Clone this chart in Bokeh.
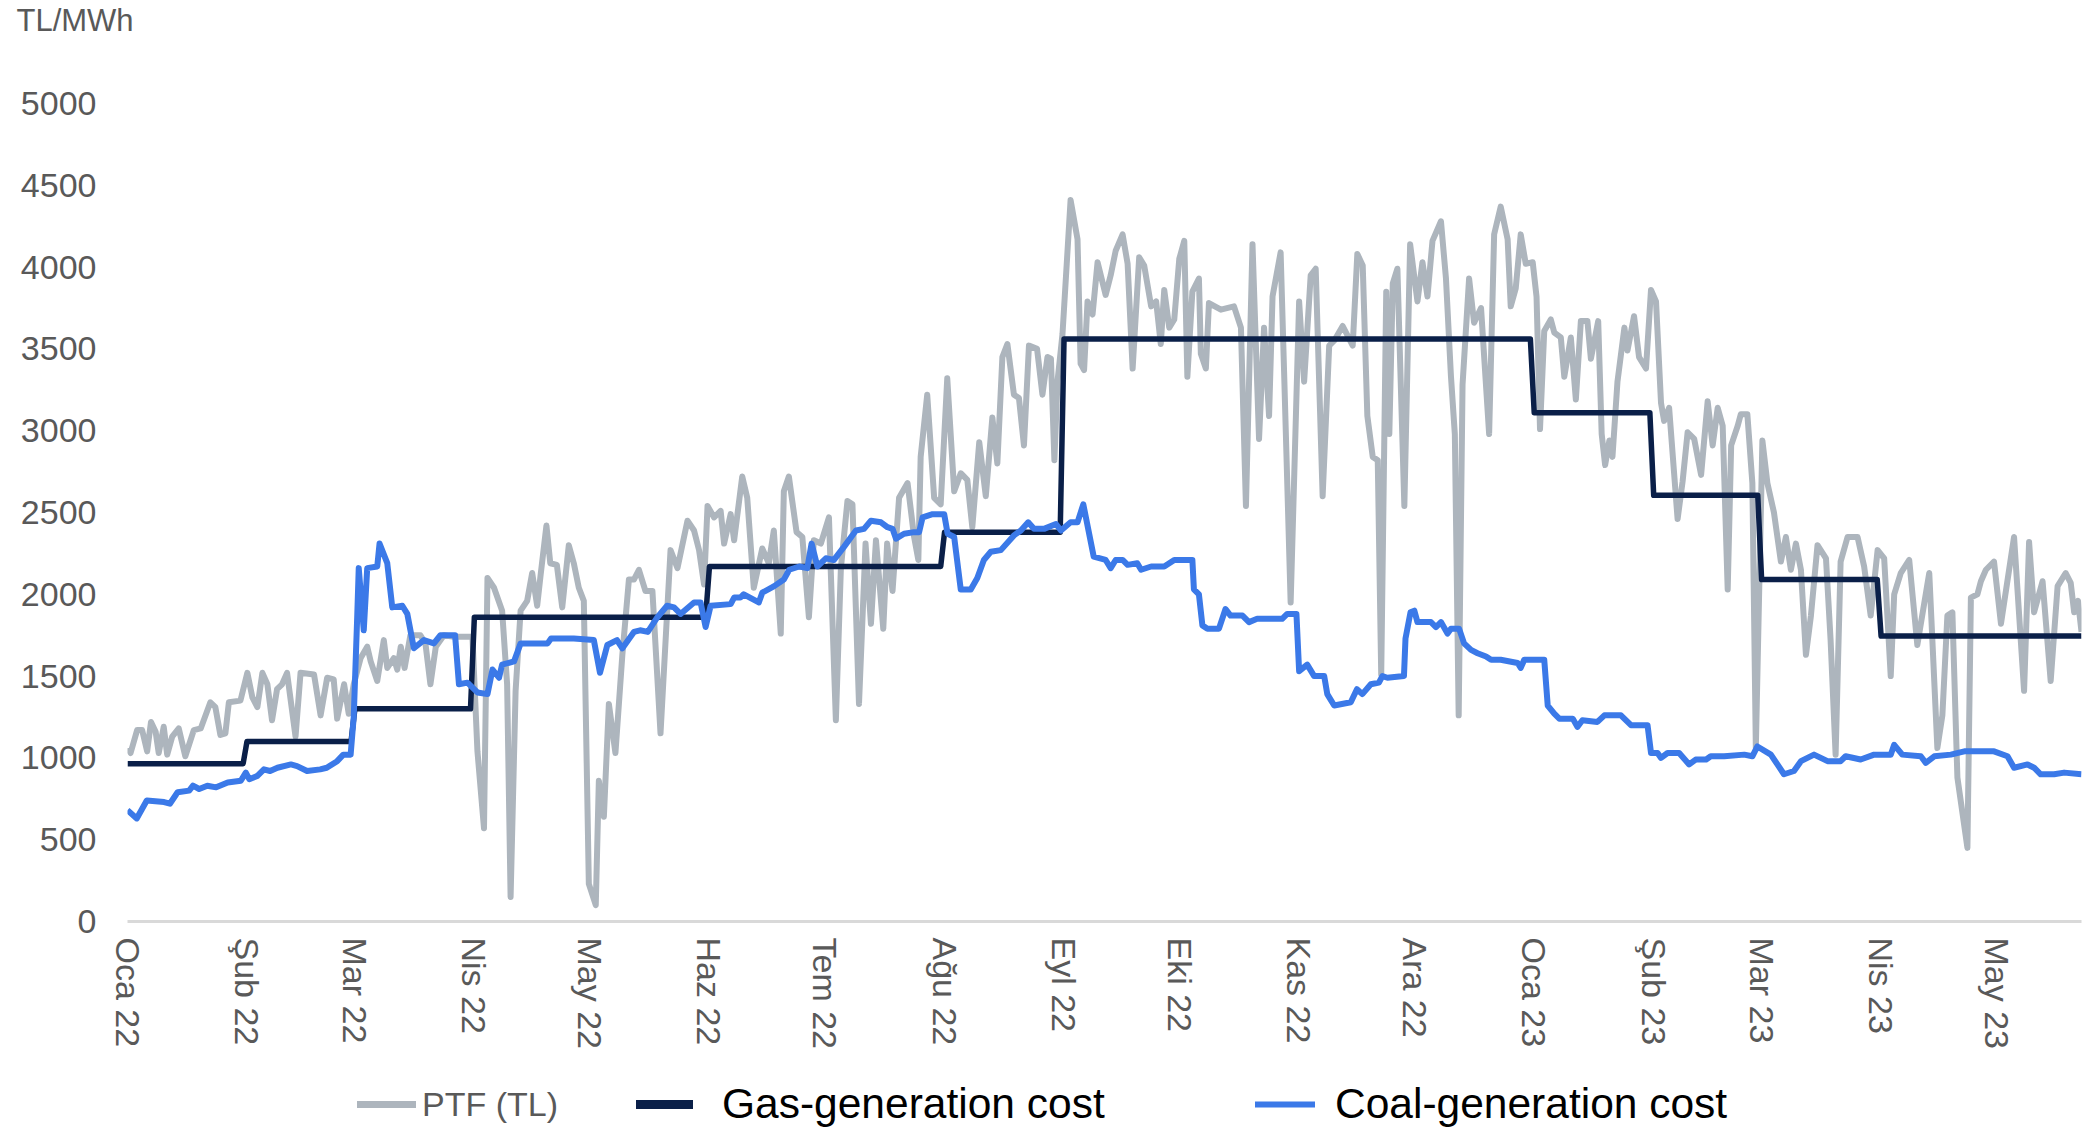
import datetime as dt
from bokeh.plotting import figure
from bokeh.layouts import column
from bokeh.models import Range1d, FixedTicker, Legend, LegendItem
from bokeh.embed import file_html
from bokeh.resources import INLINE

START = dt.date(2022, 1, 1)

# ---- axis ticks -------------------------------------------------------------
tick_months = [(2022, 1), (2022, 2), (2022, 3), (2022, 4), (2022, 5), (2022, 6),
               (2022, 7), (2022, 8), (2022, 9), (2022, 10), (2022, 11), (2022, 12),
               (2023, 1), (2023, 2), (2023, 3), (2023, 4), (2023, 5)]
tick_labels = ["Oca 22", "Şub 22", "Mar 22", "Nis 22", "May 22", "Haz 22",
               "Tem 22", "Ağu 22", "Eyl 22", "Eki 22", "Kas 22", "Ara 22",
               "Oca 23", "Şub 23", "Mar 23", "Nis 23", "May 23"]
y_ticks = [0, 500, 1000, 1500, 2000, 2500, 3000, 3500, 4000, 4500, 5000]

# ---- gas-generation cost (monthly tariff, TL/MWh) ---------------------------
gas_months = tick_months
gas_values = [965, 1100, 1300, 1860, 1860, 2170, 2170, 2380, 3560, 3560, 3560, 3560,
              3110, 2605, 2090, 1745, 1745]
last_day = dt.date(2023, 5, 23)

# ---- PTF (days since 2022-01-01, TL/MWh) ------------------------------------
ptf_days = [
    0, 0.8, 2.5, 3.8, 5.1, 6.1, 7.3, 8.1, 9.4, 10.3,
    11.6, 13.3, 15, 17.2, 19, 21.5, 22.8, 24.1, 25.4, 26.3,
    29.3, 31.1, 32.4, 33.7, 35, 36.3, 37.5, 38.8, 40.1, 41.4,
    43.6, 44.9, 48.4, 50.1, 51.8, 53.5, 54.4, 56.2, 57.4, 58.7,
    60.5, 62.2, 63.1, 64.8, 66.5, 67.4, 69.1, 70, 70.9, 71.9,
    73.4, 76, 77.3, 78.6, 80, 82.1, 84.7, 89.5,
    90.8, 92.5, 93.4, 95.1, 97.2, 98.5, 99.4, 100.7, 102, 103.7,
    105, 106.3, 107.2, 108.7, 109.7, 111.4, 112.8, 114.5, 115.8, 117.1,
    118.4, 119.7, 121.5, 122.3, 123.6, 124.9, 126.6, 128.4, 130.1, 131.4,
    132.7, 134.4, 136.2, 138.3, 140.9, 142.7, 145.3, 147, 148.3, 149.6,
    150.5, 152.2, 153.9, 154.8, 156.5, 157.4, 159.5, 160.8, 162.5, 164.7,
    166.4, 167.7, 169.5, 170.3, 171.6, 173.6, 175.1, 176.8, 178.1, 179.9,
    182, 183.8, 185.1, 186.8, 188.1, 189.8, 191.5, 192.9, 194.2, 196.1,
    197.1, 198.5, 200.2, 202.4, 204.1, 205.2, 205.8, 207.5, 209.3, 211,
    212.7, 214.5, 216.2, 217.9, 219.2, 221, 222.7, 224.4, 225.7, 227,
    228.3, 230, 231.3, 232.6, 233.9, 236, 237.4, 238.7, 239.6, 240.5,
    241.3, 242.6, 244.7, 246.5, 247.3, 248.2, 249.1, 250.4, 251.7, 253.8,
    255.1, 256.4, 258.2, 259.5, 260.8, 262.5, 263.8, 265.6, 266.9, 268.1,
    269, 270.3, 271.6, 272.9, 274.2, 275, 276.3, 278, 278.5, 279.8,
    280.6, 283.7, 287.1, 288.9, 290.2, 291.9, 293.6, 294.9, 296.2, 297.1,
    299.2, 300.1, 301.8, 304, 305.3, 307, 308.3, 310.1, 311.8, 313.1,
    315.3, 317.9, 319.1, 320.5, 321.7, 323.1, 324.4, 325.3, 326.6, 327.4,
    328.3, 329.5, 331.3, 332.8, 334.7, 336, 337.3, 338.6, 340.8, 342.1,
    343.4, 344.4, 345.4, 346.4, 348.1, 349.4, 351.2, 353.3, 354.6, 356.3,
    358.1, 358.9, 360.2, 361.5, 362.8, 364.6,
    365.6, 366.5, 367.6, 369.3, 370.2, 371.9, 372.8, 374.5, 375.8, 377.1,
    378.8, 379.7, 381.6, 382.5, 383.4, 384.5, 385.3, 386.6, 388.4, 389.2,
    390.9, 392.2, 394, 395.3, 396.6, 397.9, 398.7, 400, 402.2, 403.5,
    404.8, 406.5, 408.3, 410, 411.3, 412.6, 413.9, 415.2, 416.1, 417.8,
    418.6, 420.3, 421.6, 422.5, 424.2, 425.5, 427.2, 429, 430.3, 431.6,
    432.9, 434.2, 435.5, 436.8, 438.5, 440.7, 441.9, 443.2, 444.5, 446.3,
    448.9, 450.6, 452.3, 454.1, 455.8, 457.5, 458.4, 460.1, 462.3, 464.4,
    467.5, 469.6, 470.9, 472.2, 473.5, 474.8, 477.4, 478.3, 480, 480.9,
    482.2, 484.3, 486.1, 489.5, 492.1, 493.4, 494.7, 496.9, 499, 500.8,
    502.9, 504.2, 505.1, 506.1, 507,
]
ptf_values = [
    1060, 1030, 1170, 1170, 1040, 1220, 1160, 1030, 1190, 1020,
    1130, 1180, 1010, 1170, 1180, 1340, 1310, 1140, 1150, 1340,
    1350, 1520, 1370, 1310, 1520, 1450, 1230, 1420, 1450, 1520,
    1130, 1520, 1510, 1260, 1490, 1480, 1240, 1450, 1270, 1450,
    1610, 1680, 1590, 1470, 1720, 1550, 1610, 1540, 1680, 1550,
    1750, 1750, 1700, 1450, 1680, 1750, 1740, 1740,
    1040, 570, 2100, 2040, 1900, 1450, 150, 1410, 1900, 1960,
    2130, 1930, 2120, 2420, 2190, 2180, 1920, 2300, 2190, 2040,
    1960, 230, 100, 860, 640, 1330, 1030, 1630, 2090, 2090,
    2150, 2020, 2020, 1150, 2270, 2160, 2450, 2390, 2270, 2060,
    2540, 2470, 2510, 2310, 2490, 2330, 2720, 2590, 2040, 2280,
    2190, 2390, 1760, 2630, 2720, 2380, 2350, 1860, 2330, 2310,
    2470, 1230, 2160, 2570, 2550, 1330, 2310, 1820, 2330, 1790,
    2310, 2020, 2590, 2680, 2350, 2210, 2840, 3220, 2590, 2550,
    3320, 2630, 2740, 2700, 2410, 2930, 2600, 3080, 2800, 3450,
    3530, 3220, 3200, 2910, 3520, 3500, 3220, 3450, 3440, 2820,
    3300, 3590, 4410, 4170, 3410, 3370, 3790, 3710, 4030, 3830,
    3950, 4100, 4200, 4020, 3380, 4060, 4010, 3760, 3790, 3530,
    3860, 3630, 3680, 4050, 4160, 3330, 3850, 3930, 3470, 3380,
    3780, 3740, 3760, 3630, 2540, 4140, 2950, 3630, 3090, 3820,
    4090, 3360, 1950, 3790, 3300, 3950, 3990, 2600, 3520, 3550,
    3640, 3520, 4080, 4010, 3090, 2840, 2820, 1510, 3850, 2980,
    3900, 3990, 2540, 4140, 3790, 4030, 3820, 4160, 4280, 3930,
    3330, 2980, 1260, 3280, 3930, 3660, 3750, 2980, 4200, 4370,
    4170, 3760, 3870, 4200, 4020, 4030,
    3820, 3010, 3610, 3680, 3600, 3570, 3330, 3570, 3190, 3670,
    3670, 3440, 3670, 2980, 2790, 2940, 2840, 3300, 3630, 3490,
    3700, 3450, 3380, 3860, 3790, 3170, 3060, 3140, 2460, 2690,
    2990, 2950, 2730, 3180, 2910, 3140, 3030, 2030, 2910, 3030,
    3100, 3100, 2680, 1060, 2940, 2680, 2500, 2200, 2350, 2150,
    2310, 2150, 1630, 1870, 2300, 2220, 1720, 1020, 2200, 2350,
    2350, 2170, 1870, 2270, 2220, 1500, 2000, 2130, 2210, 1690,
    2130, 1060, 1260, 1870, 1890, 880, 450, 1980, 2000, 2080,
    2150, 2200, 1820, 2350, 1410, 2320, 1890, 2080, 1470, 2050,
    2130, 2070, 1890, 1960, 1770,
]

# ---- coal-generation cost (days since 2022-01-01, TL/MWh) -------------------
coal_days = [
    0, 2.4, 5, 9.5, 11, 13, 16, 17, 18.6, 20.7,
    23, 26, 29.4, 30.7, 31.6, 33.7, 35.4, 37, 38.9, 42.4,
    44, 46.6, 50, 51.7, 54.4, 56, 57.9, 58.7, 59.6, 60,
    61.3, 62.2, 64.8, 65.4, 67.4, 68.7, 71.3, 72.6, 74.3, 76.9,
    79.5, 81.2, 85, 86, 88.2, 90.8, 93.4, 94.7, 96.4, 97.2,
    100.3, 102, 109, 109.9, 115.8, 121, 122.6, 124.5, 127, 128.4,
    131.4, 133, 135, 137.5, 140, 141.8, 143.5, 147, 148.7, 150,
    151.3, 156.5, 157.4, 159, 159.9, 163.8, 164.7, 167.8, 170.3, 171.7,
    174.3, 176.4, 177.5, 179, 181.2, 183.3, 185.9, 189, 191.1, 192.9,
    195.5, 197.2, 198.5, 199.4, 201.5, 204.1, 205.4, 206.3, 208.9, 211.9,
    212.8, 214.5, 216.2, 218.8, 220.5, 222.2, 224, 226.6, 230, 231.8,
    233.7, 235.2, 237.8, 240.9, 242.2, 244.7, 246.5, 248, 250.7, 253.8,
    255.1, 256.4, 258.2, 259.5, 262, 263, 265.6, 269, 271.6, 276.3,
    276.7, 278, 278.9, 280.2, 283.2, 284.9, 286.2, 289.3, 291, 293.1,
    299.6, 300.9, 303.3, 304, 306.1, 307.9, 310.5, 311.3, 313.1, 317.4,
    319, 320.4, 322.6, 324.7, 325.6, 326.9, 331.2, 331.6, 332.9, 333.9,
    334.7, 338.2, 339.5, 340.8, 342.5, 343.4, 345.5, 346.8, 348.6, 350.3,
    352.5, 353.8, 356.3, 360.7, 361.5, 362.4, 367.6, 368.5, 370.2, 371.5,
    375, 376.2, 377.5, 381.4, 383.2, 387.5, 390.1, 394.4, 395.3, 397,
    397.9, 399.6, 402.6, 405.2, 406.9, 409.6, 410.8, 414.3, 419.5, 421.6,
    422.9, 426.4, 428.1, 429.8, 432.4, 434.2, 437.6, 441.1, 444.5, 445.8,
    449.7, 453.2, 457.5, 458.4, 460.5, 465.3, 466.6, 468.8, 473.1, 476.6,
    484.3, 487.8, 489.5, 493, 494.7, 496.4, 499.9, 502.5, 507,
]
coal_values = [
    680, 630, 740, 730, 720, 790, 800, 830, 810, 830,
    820, 850, 860, 910, 870, 890, 930, 920, 940, 960,
    950, 920, 930, 940, 980, 1020, 1020, 1250, 1860, 2160,
    1780, 2160, 2170, 2310, 2190, 1920, 1930, 1880, 1670, 1720,
    1700, 1750, 1750, 1450, 1460, 1400, 1390, 1540, 1490, 1570,
    1590, 1700, 1700, 1730, 1730, 1720, 1520, 1690, 1720, 1670,
    1770, 1780, 1770, 1860, 1930, 1920, 1880, 1950, 1950, 1800,
    1930, 1940, 1980, 1980, 2000, 1950, 2010, 2050, 2090, 2150,
    2170, 2160, 2310, 2170, 2220, 2210, 2290, 2390, 2400, 2450,
    2440, 2410, 2400, 2340, 2370, 2380, 2380, 2470, 2490, 2490,
    2370, 2350, 2030, 2030, 2100, 2210, 2260, 2270, 2360, 2390,
    2440, 2400, 2400, 2430, 2390, 2440, 2440, 2550, 2230, 2210,
    2160, 2210, 2210, 2180, 2190, 2150, 2170, 2170, 2210, 2210,
    2030, 2000, 1810, 1790, 1790, 1910, 1870, 1870, 1830, 1850,
    1850, 1880, 1880, 1530, 1570, 1500, 1500, 1390, 1320, 1340,
    1420, 1390, 1450, 1460, 1500, 1490, 1500, 1730, 1890, 1900,
    1830, 1830, 1800, 1830, 1760, 1790, 1790, 1700, 1660, 1640,
    1620, 1600, 1600, 1580, 1550, 1600, 1600, 1320, 1270, 1240,
    1240, 1190, 1230, 1220, 1260, 1260, 1200, 1200, 1030, 1030,
    1000, 1030, 1030, 960, 990, 990, 1010, 1010, 1020, 1010,
    1070, 1020, 960, 900, 920, 980, 1020, 980, 980, 1010,
    990, 1020, 1020, 1080, 1020, 1010, 970, 1010, 1020, 1040,
    1040, 1010, 940, 960, 940, 900, 900, 910, 900,
]

# ---- derived series -----------------------------------------------------------
tick_pos = [(dt.date(y, m, 1) - START).days for (y, m) in tick_months]
gas_lookup = dict(zip(gas_months, gas_values))
n_days = (last_day - START).days
gas_days = list(range(n_days + 1))
gas_daily = []
for d in gas_days:
    day = START + dt.timedelta(days=d)
    gas_daily.append(gas_lookup[(day.year, day.month)])

GREY = "#adb5bd"
NAVY = "#0a1f48"
BLUE = "#3b79e8"
TXT = "#595959"
FONT = "Liberation Sans"
W = 2090
FRAME_LEFT = 127


def blank_fig(h):
    f = figure(width=W, height=h, output_backend="svg", toolbar_location=None,
               x_range=Range1d(0, 1), y_range=Range1d(0, 1),
               x_axis_location=None, y_axis_location=None, min_border=0)
    f.outline_line_color = None
    f.background_fill_color = "white"
    f.border_fill_color = "white"
    f.xgrid.visible = False
    f.ygrid.visible = False
    return f


# ---- header row carrying the unit label -------------------------------------------
head = blank_fig(42)
head.title.text = "TL/MWh"
head.title.align = "left"
head.title.offset = 16 - FRAME_LEFT
head.title.standoff = 0
head.title.vertical_align = "bottom"
head.title.text_font = FONT
head.title.text_font_size = "31px"
head.title.text_font_style = "normal"
head.title.text_color = TXT

# ---- main chart ---------------------------------------------------------------
p = figure(width=W, height=1029, output_backend="svg", toolbar_location=None,
           x_range=Range1d(0, n_days), y_range=Range1d(0, 5000),
           min_border_left=FRAME_LEFT, min_border_right=9, min_border_top=61,
           min_border_bottom=150)
p.outline_line_color = None
p.xgrid.visible = False
p.ygrid.visible = False
p.background_fill_color = "white"
p.border_fill_color = "white"

p.yaxis.ticker = FixedTicker(ticks=y_ticks)
p.yaxis.axis_line_color = None
p.yaxis.major_tick_line_color = None
p.yaxis.minor_tick_line_color = None
p.yaxis.major_tick_out = 0
p.yaxis.major_tick_in = 0
p.yaxis.major_label_standoff = 31
p.yaxis.major_label_text_font = FONT
p.yaxis.major_label_text_font_size = "34px"
p.yaxis.major_label_text_color = TXT

p.xaxis.ticker = FixedTicker(ticks=tick_pos)
p.xaxis.major_label_overrides = {pos: lab for pos, lab in zip(tick_pos, tick_labels)}
p.xaxis.major_label_orientation = "vertical"
p.xaxis.axis_line_color = "#d9d9d9"
p.xaxis.axis_line_width = 3
p.xaxis.major_tick_line_color = None
p.xaxis.minor_tick_line_color = None
p.xaxis.major_tick_out = 0
p.xaxis.major_tick_in = 0
p.xaxis.major_label_standoff = 16
p.xaxis.major_label_text_font = FONT
p.xaxis.major_label_text_font_size = "34px"
p.xaxis.major_label_text_color = TXT

p.line(ptf_days, ptf_values, line_color=GREY, line_width=6, line_join="round")
p.line(gas_days, gas_daily, line_color=NAVY, line_width=5.5, line_join="round")
p.line(coal_days, coal_values, line_color=BLUE, line_width=6, line_join="round")

# ---- legend row (frame aligned with the chart frame) ---------------------------
foot = blank_fig(58)
NAN = float("nan")


def legend_entry(label, color, width, x, gw, standoff, font_size, text_color):
    r = foot.line([NAN], [NAN], line_color=color, line_width=width, line_cap="round")
    lg = Legend(items=[LegendItem(label=label, renderers=[r])],
                location=(x - FRAME_LEFT, -1),
                orientation="horizontal", padding=0, margin=0, spacing=0,
                border_line_color=None, background_fill_alpha=0,
                glyph_width=gw, glyph_height=52, label_height=52,
                label_standoff=standoff, label_text_font=FONT,
                label_text_font_size=font_size, label_text_color=text_color,
                label_text_baseline="middle")
    foot.add_layout(lg, "center")


legend_entry("PTF (TL)", GREY, 7, 357, 59, 6, "34px", TXT)
legend_entry("Gas-generation cost", NAVY, 9, 636, 57, 29, "42.5px", "black")
legend_entry("Coal-generation cost", BLUE, 6, 1255, 60, 20, "42.5px", "black")

layout = column(head, p, foot, spacing=0)
open("out.html", "w").write(file_html(layout, INLINE))
